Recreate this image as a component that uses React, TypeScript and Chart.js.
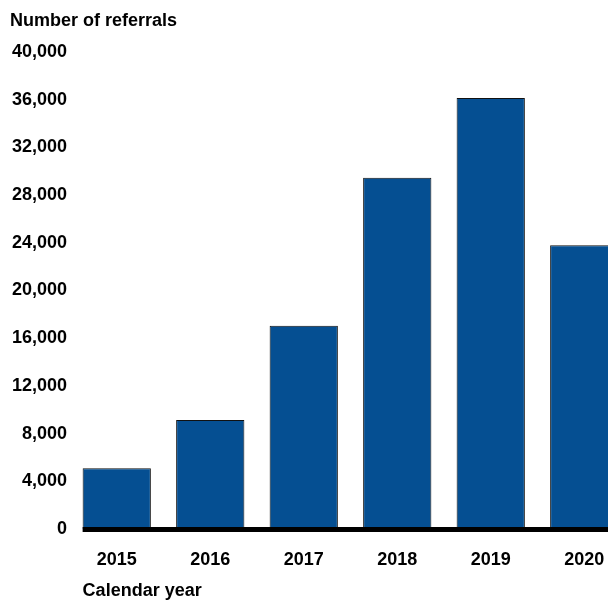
import { useEffect, useRef } from "react";
import { Chart, registerables } from "chart.js";

Chart.register(...registerables);

const years = ["2015", "2016", "2017", "2018", "2019", "2020"];
const referrals = [5100, 9150, 17050, 29450, 36150, 23800];
const yMin = 0;
const yMax = 40000;
const yStep = 4000;
const yTitle = "Number of referrals";
const xTitle = "Calendar year";

const FONT = "'Liberation Sans', Arial, Helvetica, sans-serif";
const BAR_COLOR = "#054F92";

const decorations = {
  id: "decorations",
  afterDatasetsDraw(chart: any) {
    const ctx = chart.ctx;
    const meta = chart.getDatasetMeta(0);
    const first = meta.data[0];
    const left = first.x - first.width / 2;
    const y0 = chart.scales.y.getPixelForValue(0);
    ctx.save();
    ctx.strokeStyle = "#000";
    ctx.lineWidth = 5;
    ctx.beginPath();
    ctx.moveTo(left, y0 + 0.5);
    ctx.lineTo(chart.width, y0 + 0.5);
    ctx.stroke();
    ctx.restore();
  },
  afterDraw(chart: any) {
    const ctx = chart.ctx;
    const meta = chart.getDatasetMeta(0);
    const first = meta.data[0];
    const left = first.x - first.width / 2;
    ctx.save();
    ctx.fillStyle = "#000";
    ctx.font = `bold 18px ${FONT}`;
    ctx.textBaseline = "alphabetic";
    ctx.textAlign = "left";
    ctx.fillText(yTitle, 10, 26);
    ctx.fillText(xTitle, left, 596);
    ctx.restore();
  },
};

export default function App() {
  const ref = useRef<HTMLCanvasElement | null>(null);

  useEffect(() => {
    if (!ref.current) return;
    const chart = new Chart(ref.current, {
      type: "bar",
      data: {
        labels: years,
        datasets: [
          {
            data: referrals,
            backgroundColor: BAR_COLOR,
            borderColor: "#111111",
            borderWidth: 1,
            barPercentage: 0.73,
            categoryPercentage: 1,
          },
        ],
      },
      options: {
        animation: false,
        responsive: false,
        devicePixelRatio: 1,
        layout: { padding: { top: 52, left: 0, right: 0, bottom: 0 } },
        plugins: {
          legend: { display: false },
          tooltip: { enabled: false },
          title: { display: false },
        },
        scales: {
          x: {
            grid: { display: false, drawTicks: false },
            border: { display: false },
            ticks: {
              color: "#000",
              padding: 20,
              font: { family: FONT, size: 18, weight: "bold" },
              maxRotation: 0,
            },
            afterFit: (scale: any) => {
              scale.height = 72;
            },
          },
          y: {
            min: yMin,
            max: yMax,
            grid: { display: false, drawTicks: false },
            border: { display: false },
            ticks: {
              stepSize: yStep,
              color: "#000",
              padding: 3,
              font: { family: FONT, size: 18, weight: "bold" },
              callback: (v: any) => Number(v).toLocaleString("en-US"),
            },
            afterFit: (scale: any) => {
              scale.width = 70;
            },
          },
        },
      },
      plugins: [decorations],
    });
    return () => chart.destroy();
  }, []);

  return (
    <div
      style={{
        position: "fixed",
        left: 0,
        top: 0,
        width: 608,
        height: 601,
        overflow: "hidden",
        background: "#fff",
      }}
    >
      <canvas ref={ref} width={631} height={601} style={{ display: "block" }} />
    </div>
  );
}
